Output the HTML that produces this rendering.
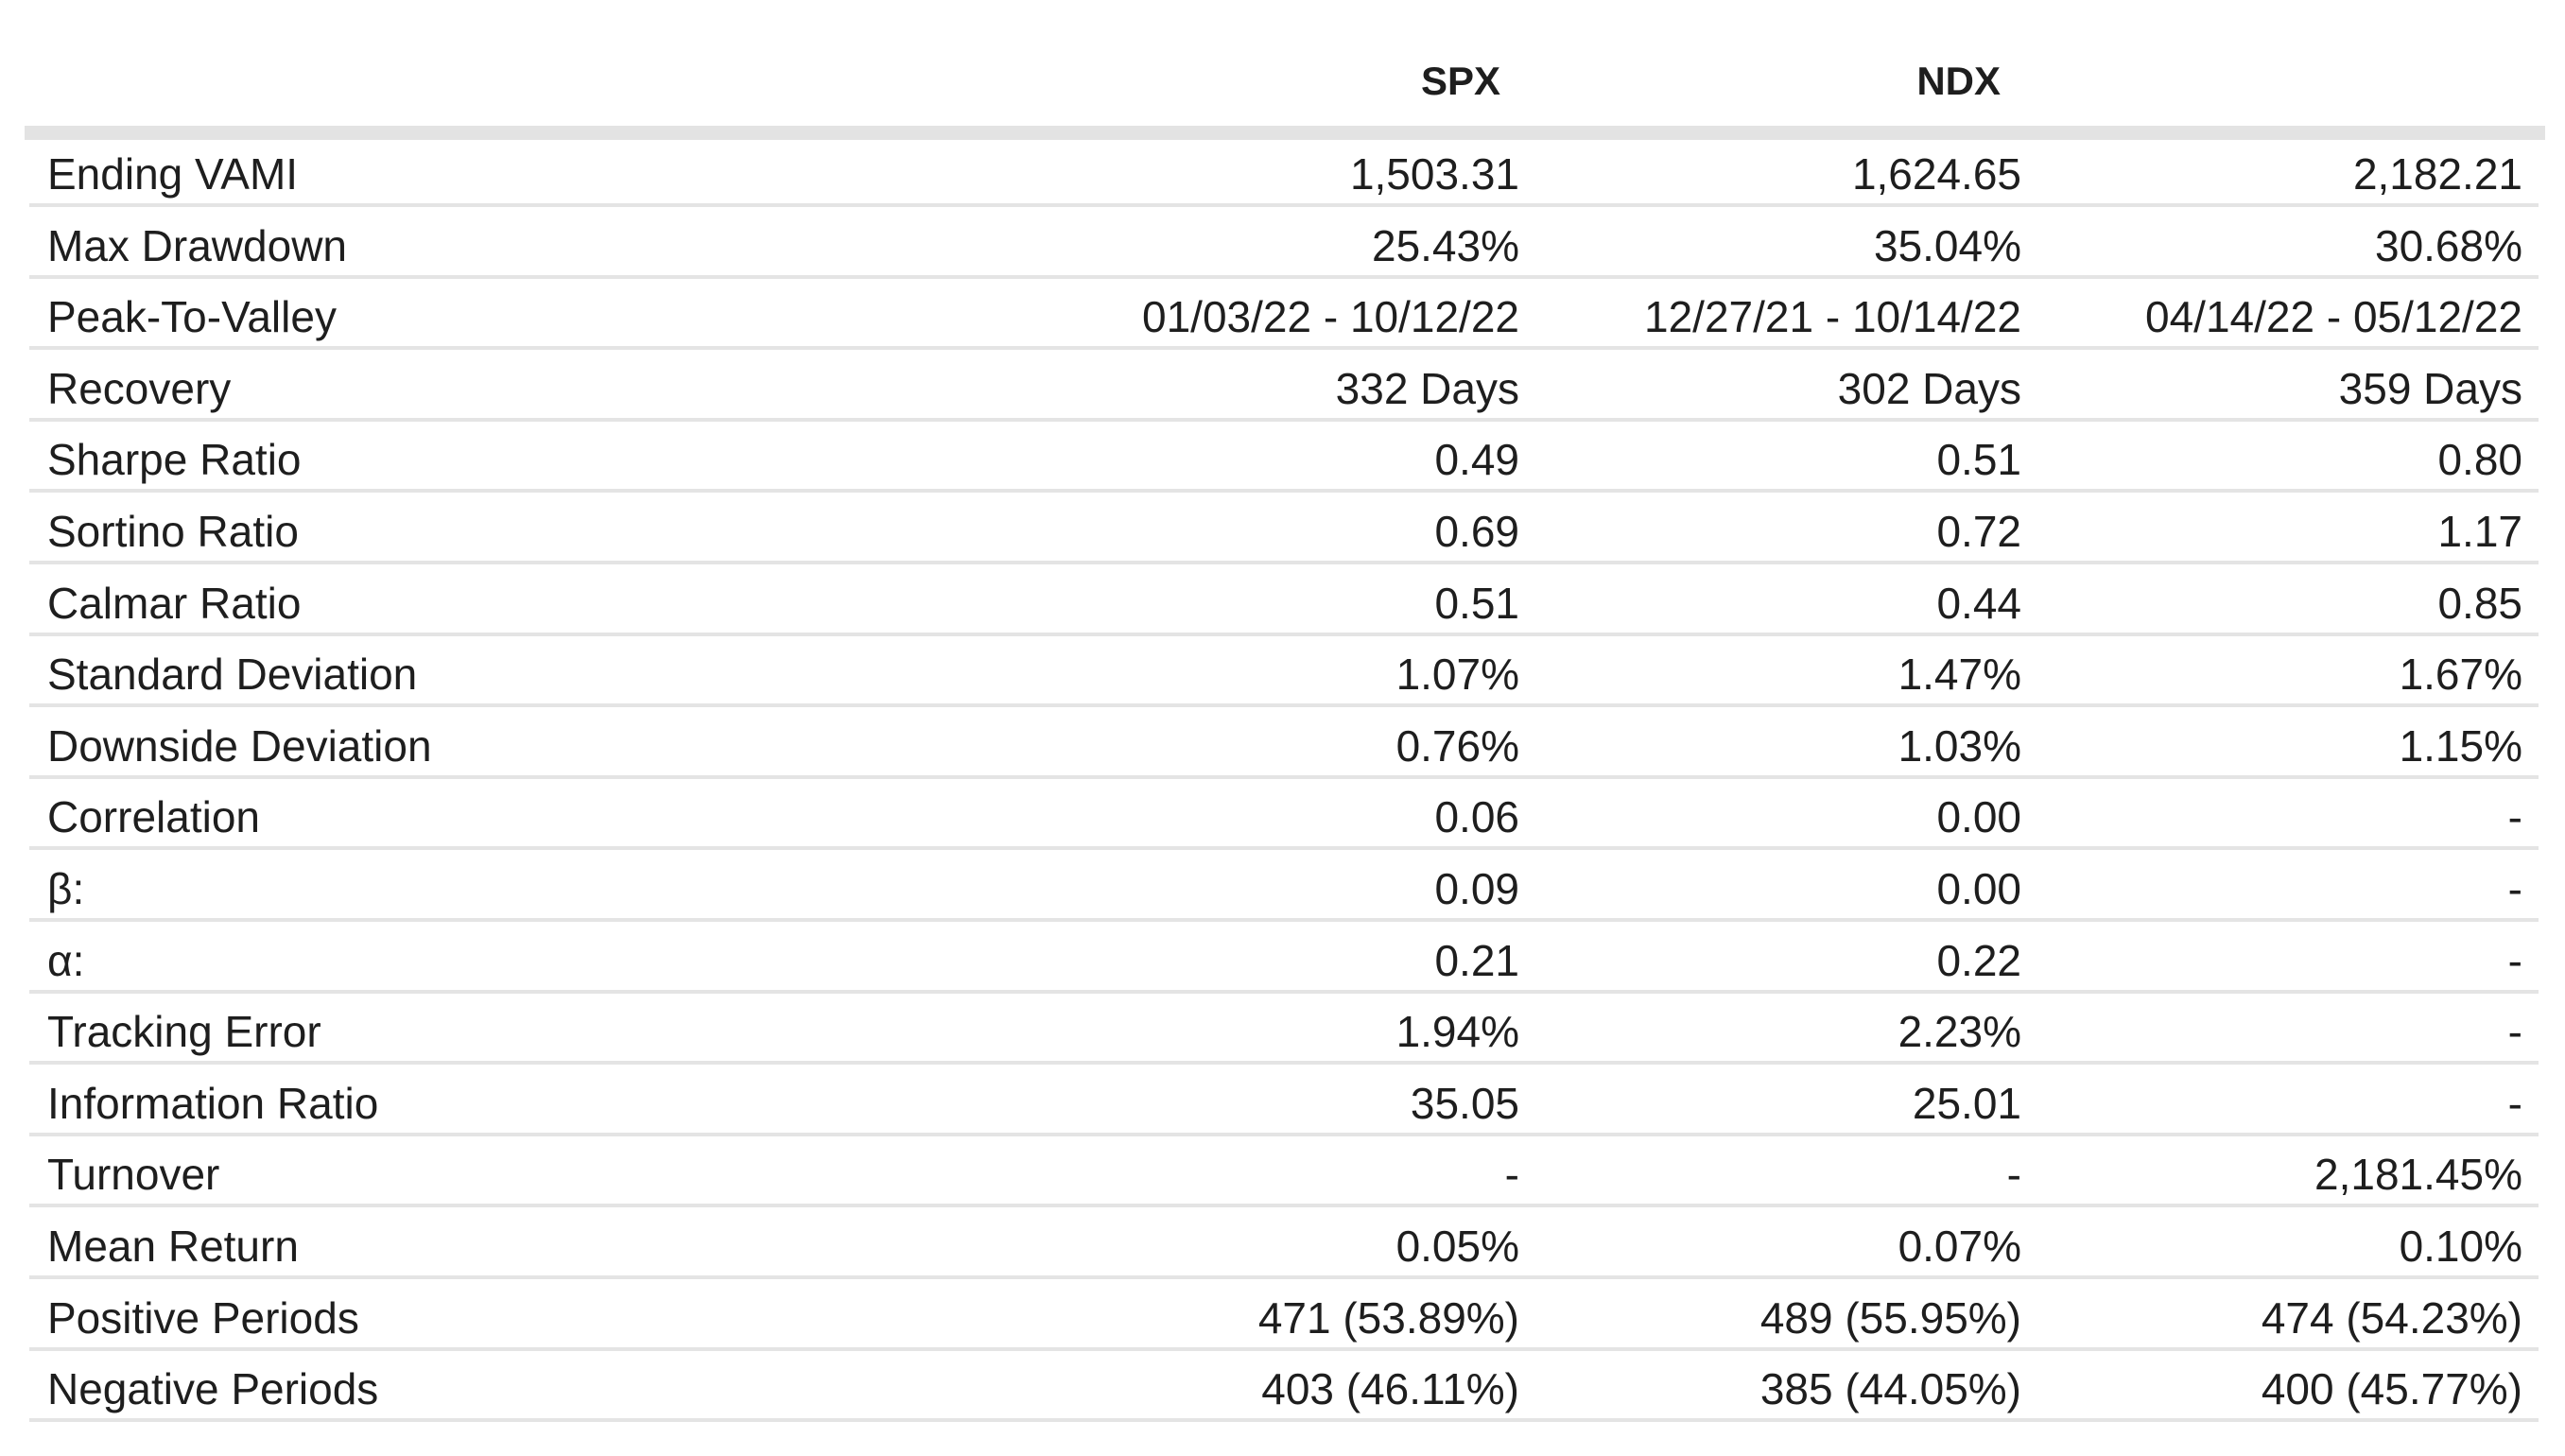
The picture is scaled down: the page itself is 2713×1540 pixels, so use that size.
<!DOCTYPE html>
<html><head><meta charset="utf-8"><style>
body{margin:0;width:2713px;height:1540px;background:#fff;position:relative;overflow:hidden;font-family:"Liberation Sans",sans-serif;color:#1e1e1e}
.h{position:absolute;font-weight:bold;font-size:42px;top:62px}
.bar{position:absolute;left:26px;width:2666px;top:133px;height:15px;background:#e3e3e3}
.row{position:absolute;left:31px;width:2654px;height:75.6px}
.row .l{position:absolute;left:19px;font-size:46px;bottom:6px}
.row .v{position:absolute;font-size:46px;bottom:6px;text-align:right;white-space:nowrap}
.row .sep{position:absolute;left:0;right:0;bottom:-2px;height:4px;background:#e4e4e4}
</style></head><body>
<div class="h" style="right:1126px">SPX</div>
<div class="h" style="right:597px">NDX</div>
<div class="bar"></div>
<div id="t"></div>
<script>
const labels=["Ending VAMI","Max Drawdown","Peak-To-Valley","Recovery","Sharpe Ratio","Sortino Ratio","Calmar Ratio","Standard Deviation","Downside Deviation","Correlation","β:","α:","Tracking Error","Information Ratio","Turnover","Mean Return","Positive Periods","Negative Periods"];
const spx=["1,503.31","25.43%","01/03/22 - 10/12/22","332 Days","0.49","0.69","0.51","1.07%","0.76%","0.06","0.09","0.21","1.94%","35.05","-","0.05%","471 (53.89%)","403 (46.11%)"];
const ndx=["1,624.65","35.04%","12/27/21 - 10/14/22","302 Days","0.51","0.72","0.44","1.47%","1.03%","0.00","0.00","0.22","2.23%","25.01","-","0.07%","489 (55.95%)","385 (44.05%)"];
const port=["2,182.21","30.68%","04/14/22 - 05/12/22","359 Days","0.80","1.17","0.85","1.67%","1.15%","-","-","-","-","-","2,181.45%","0.10%","474 (54.23%)","400 (45.77%)"];
const t=document.getElementById('t');
labels.forEach((lab,i)=>{
 const r=document.createElement('div');r.className='row';
 
 
 r.style.top=(141.4+i*75.6)+'px';
 const l=document.createElement('div');l.className='l';l.textContent=lab;
 
 
 r.appendChild(l);
 [[spx,1607],[ndx,2138],[port,2668]].forEach(([arr,x],k)=>{
  const v=document.createElement('div');v.className='v';v.textContent=arr[i];
  v.style.right=(2685-x)+'px';
  
  
  r.appendChild(v);
 });
 const s=document.createElement('div');s.className='sep';
 
 
 r.appendChild(s);
 t.appendChild(r);
});
</script>
</body></html>
